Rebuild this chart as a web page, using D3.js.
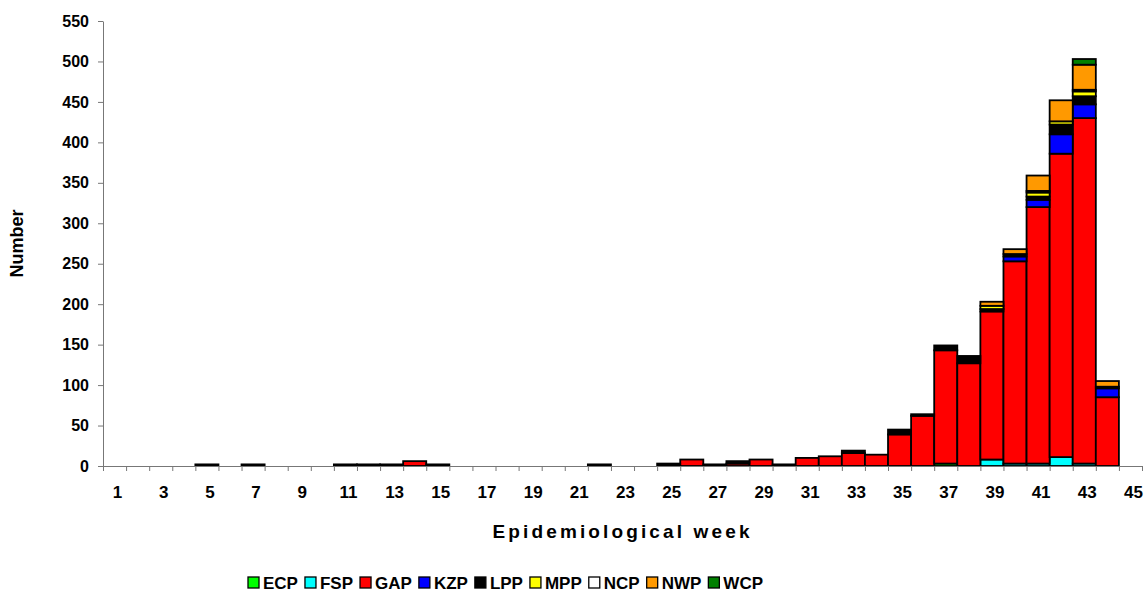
<!DOCTYPE html>
<html>
<head>
<meta charset="utf-8">
<script src="https://cdn.jsdelivr.net/npm/d3@7"></script>
<style>
  body { margin: 0; background: #fff; }
  svg text { font-family: "Liberation Sans", Arial, sans-serif; font-weight: bold; fill: #000; }
</style>
</head>
<body>
<div id="chart"></div>
<script>
// weeks 1..45
var weeks = d3.range(1, 46);
var xTickLabels = d3.range(1, 46, 2);
var yTicks = d3.range(0, 551, 50);

var provinces = ["ECP", "FSP", "GAP", "KZP", "LPP", "MPP", "NCP", "NWP", "WCP"];
var provinceColors = ["#00ff00", "#00ffff", "#ff0000", "#0000ff", "#000000", "#ffff00", "#ffffff", "#ff9900", "#008000"];

//           1  2  3  4  5  6  7  8  9 10 11 12 13 14 15 16 17 18 19 20 21 22 23 24 25 26 27 28 29 30 31 32 33 34 35 36  37  38  39  40  41  42  43 44 45
var ECP = [  0, 0, 0, 0, 0, 0, 0, 0, 0, 0, 0, 0, 0, 0, 0, 0, 0, 0, 0, 0, 0, 0, 0, 0, 0, 0, 0, 0, 0, 0, 0, 0, 0, 0, 0, 0,  3,  0,  0,  0,  0,  0,  0, 0, 0];
var FSP = [  0, 0, 0, 0, 0, 0, 0, 0, 0, 0, 0, 0, 0, 0, 0, 0, 0, 0, 0, 0, 0, 0, 0, 0, 0, 0, 0, 0, 0, 0, 0, 0, 0, 0, 0, 0,  0,  0,  8,  3,  3, 11,  3, 0, 0];
var GAP = [  0, 0, 0, 0, 2, 0, 2, 0, 0, 0, 2, 2, 2, 6, 2, 0, 0, 0, 0, 0, 0, 2, 0, 0, 0, 8, 2, 3, 8, 2,10,12,16,14,39,62,140,127,183,250,317,375,427,85, 0];
var KZP = [  0, 0, 0, 0, 0, 0, 0, 0, 0, 0, 0, 0, 0, 0, 0, 0, 0, 0, 0, 0, 0, 0, 0, 0, 0, 0, 0, 0, 0, 0, 0, 0, 0, 0, 0, 0,  0,  0,  0,  6,  9, 24, 17,11, 0];
var LPP = [  0, 0, 0, 0, 0, 0, 0, 0, 0, 0, 0, 0, 0, 0, 0, 0, 0, 0, 0, 0, 0, 0, 0, 0, 3, 0, 0, 3, 0, 0, 0, 0, 3, 0, 6, 2,  6,  9,  3,  3,  4, 12, 10, 2, 0];
var MPP = [  0, 0, 0, 0, 0, 0, 0, 0, 0, 0, 0, 0, 0, 0, 0, 0, 0, 0, 0, 0, 0, 0, 0, 0, 0, 0, 0, 0, 0, 0, 0, 0, 0, 0, 0, 0,  0,  0,  4,  0,  5,  4,  6, 0, 0];
var NCP = [  0, 0, 0, 0, 0, 0, 0, 0, 0, 0, 0, 0, 0, 0, 0, 0, 0, 0, 0, 0, 0, 0, 0, 0, 0, 0, 0, 0, 0, 0, 0, 0, 0, 0, 0, 0,  0,  0,  0,  0,  2,  0,  2, 0, 0];
var NWP = [  0, 0, 0, 0, 0, 0, 0, 0, 0, 0, 0, 0, 0, 0, 0, 0, 0, 0, 0, 0, 0, 0, 0, 0, 0, 0, 0, 0, 0, 0, 0, 0, 0, 0, 0, 0,  0,  0,  5,  6, 19, 26, 31, 7, 0];
var WCP = [  0, 0, 0, 0, 0, 0, 0, 0, 0, 0, 0, 0, 0, 0, 0, 0, 0, 0, 0, 0, 0, 0, 0, 0, 0, 0, 0, 0, 0, 0, 0, 0, 0, 0, 0, 0,  0,  0,  0,  0,  0,  0,  7, 0, 0];

var series = { ECP: ECP, FSP: FSP, GAP: GAP, KZP: KZP, LPP: LPP, MPP: MPP, NCP: NCP, NWP: NWP, WCP: WCP };

var width = 1145,
    height = 597,
    margin = { top: 21, right: 3, bottom: 131, left: 103 },
    innerW = width - margin.left - margin.right,
    innerH = height - margin.top - margin.bottom;

// one row per week for d3.stack
var table = weeks.map(function(w, i) {
    var row = { week: w };
    provinces.forEach(function(p) { row[p] = series[p][i]; });
    return row;
});

var stacked = d3.stack().keys(provinces)(table);

var x = d3.scaleBand()
    .domain(weeks)
    .range([0, innerW])
    .padding(0);
var xEdge = d3.scaleLinear()
    .domain([0, weeks.length])
    .range([0, innerW]);
var y = d3.scaleLinear()
    .domain([0, 550])
    .range([innerH, 0]);
var color = d3.scaleOrdinal()
    .domain(provinces)
    .range(provinceColors);

var svg = d3.select("#chart").append("svg")
    .attr("width", width)
    .attr("height", height);

var g = svg.append("g")
    .attr("transform", "translate(" + margin.left + "," + margin.top + ")");

// bars
g.selectAll("g.layer")
    .data(stacked)
    .enter().append("g")
    .attr("class", "layer")
    .attr("fill", function(d) { return color(d.key); })
    .selectAll("rect")
    .data(function(d) { return d.filter(function(s) { return s[1] - s[0] > 0; }); })
    .enter().append("rect")
    .attr("x", function(d) { return x(d.data.week); })
    .attr("width", x.bandwidth())
    .attr("y", function(d) { return y(d[1]); })
    .attr("height", function(d) { return y(d[0]) - y(d[1]); })
    .attr("stroke", "#000")
    .attr("stroke-width", 1.8);

// y axis
var yAxis = g.append("g")
    .call(d3.axisLeft(y).tickValues(yTicks).tickSize(5).tickSizeOuter(0).tickPadding(9));
yAxis.selectAll("text").style("font-size", "16px");

// x axis: ticks on the band edges, labels on odd weeks
var xAxisTicks = g.append("g")
    .attr("transform", "translate(0," + innerH + ")")
    .call(d3.axisBottom(xEdge).tickValues(d3.range(0, weeks.length + 1)).tickSize(5).tickSizeOuter(0).tickFormat(""));
var xAxisLabels = g.append("g")
    .attr("transform", "translate(0," + innerH + ")")
    .call(d3.axisBottom(x).tickValues(xTickLabels).tickSize(0).tickPadding(20));
xAxisLabels.select(".domain").remove();
xAxisLabels.selectAll("text").style("font-size", "17px").attr("dx", 3);

svg.selectAll(".domain, .tick line").attr("stroke", "#777");

// axis titles
svg.append("text")
    .attr("transform", "translate(23," + (margin.top + innerH / 2) + ") rotate(-90)")
    .attr("text-anchor", "middle")
    .style("font-size", "18px")
    .text("Number");

svg.append("text")
    .attr("x", 621)
    .attr("y", 538)
    .attr("text-anchor", "middle")
    .attr("textLength", 257)
    .attr("lengthAdjust", "spacing")
    .style("font-size", "19px")
    .text("Epidemiological week");

// legend
var legend = svg.append("g")
    .attr("transform", "translate(248,583)");
var lx = 0;
provinces.forEach(function(p) {
    var item = legend.append("g").attr("transform", "translate(" + lx + ",0)");
    item.append("rect")
        .attr("x", 0).attr("y", -6)
        .attr("width", 11).attr("height", 11)
        .attr("fill", color(p))
        .attr("stroke", "#000")
        .attr("stroke-width", 1.3);
    var t = item.append("text")
        .attr("x", 15).attr("y", 6)
        .style("font-size", "17px")
        .text(p);
    lx += 15 + t.node().getComputedTextLength() + 7;
});
</script>
</body>
</html>
